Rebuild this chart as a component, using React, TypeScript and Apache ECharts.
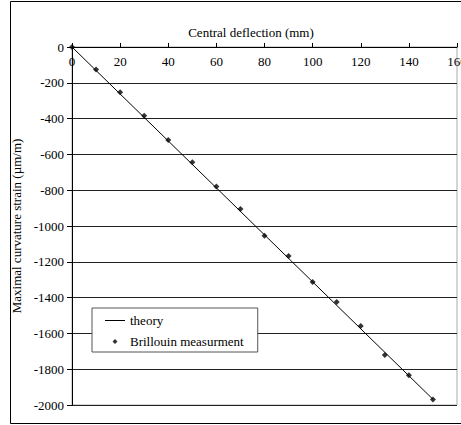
import React, { useEffect, useRef } from "react";
import * as echarts from "echarts";

const deflection = [0, 10, 20, 30, 40, 50, 60, 70, 80, 90, 100, 110, 120, 130, 140, 150];
const measured = [0, -125, -253, -384, -520, -644, -780, -905, -1054, -1168, -1313, -1425, -1559, -1721, -1834, -1969];
const theoryX = [0, 150];
const theoryY = [0, -1968];
const seriesNames = ["theory", "Brillouin measurment"];
const xTitle = "Central deflection (mm)";
const yTitle = "Maximal curvature strain (µm/m)";

const FONT = "Liberation Serif";

export default function App() {
  const ref = useRef<HTMLDivElement>(null);
  useEffect(() => {
    if (!ref.current) return;
    const chart = echarts.init(ref.current, null, { renderer: "svg" });
    chart.setOption({
      animation: false,
      backgroundColor: "#fff",
      textStyle: { fontFamily: FONT },
      title: {
        text: xTitle,
        left: 246,
        top: 21,
        textAlign: "center",
        textStyle: { fontFamily: FONT, fontSize: 13, fontWeight: "normal", color: "#000" },
      },
      graphic: [
        {
          type: "rect",
          shape: { x: 10.5, y: 1.5, width: 460, height: 422 },
          style: { fill: "none", stroke: "#000", lineWidth: 1 },
          silent: true,
          z: 100,
        },
      ],
      grid: {
        left: 72,
        top: 47,
        right: 4,
        bottom: 20,
        show: true,
        borderColor: "#aaa",
        borderWidth: 1,
        containLabel: false,
        outerBoundsMode: "none",
      },
      legend: {
        orient: "vertical",
        left: 92,
        top: 308,
        padding: [6, 14, 4, 13],
        itemWidth: 20,
        itemHeight: 6,
        itemGap: 8,
        backgroundColor: "#fff",
        borderColor: "#555",
        borderWidth: 1,
        textStyle: { fontFamily: FONT, fontSize: 13, color: "#000" },
        data: [
          { name: seriesNames[0], icon: "path://M0,2.5 L20,2.5 L20,3.5 L0,3.5 Z M0,0 L0.01,0 L0,0 Z M0,6 L0.01,6 L0,6 Z" },
          { name: seriesNames[1], icon: "path://M0,3 L0.01,3 L0,3 Z M7.5,3 L10,0.5 L12.5,3 L10,5.5 Z M19.99,3 L20,3 L19.99,3 Z M10,0 L10.01,0 L10,0 Z M10,6 L10.01,6 L10,6 Z" },
        ],
      },
      xAxis: {
        type: "value",
        position: "top",
        min: 0,
        max: 160,
        interval: 20,
        axisLine: { show: true, onZero: false, lineStyle: { color: "#000", width: 1 } },
        axisTick: { show: true, inside: false, length: 4, lineStyle: { color: "#000" } },
        axisLabel: {
          inside: true,
          margin: 8,
          fontFamily: FONT,
          fontSize: 13,
          color: "#000",
          alignMaxLabel: "center",
          alignMinLabel: "center",
        },
        splitLine: { show: false },
      },
      yAxis: {
        type: "value",
        min: -2000,
        max: 0,
        interval: 200,
        name: yTitle,
        nameLocation: "middle",
        nameGap: 43,
        nameTextStyle: { fontFamily: FONT, fontSize: 13, color: "#000" },
        axisLine: { show: true, onZero: false, lineStyle: { color: "#000", width: 1 } },
        axisTick: { show: true, inside: false, length: 5, lineStyle: { color: "#000" } },
        axisLabel: {
          margin: 8,
          fontFamily: FONT,
          fontSize: 13,
          color: "#000",
          formatter: (v: number) => String(v),
        },
        splitLine: { show: true, lineStyle: { color: "#222", width: 1 } },
      },
      series: [
        {
          name: seriesNames[0],
          type: "line",
          symbol: "none",
          data: theoryX.map((x, i) => [x, theoryY[i]]),
          lineStyle: { color: "#000", width: 1 },
          itemStyle: { color: "#000" },
          z: 3,
        },
        {
          name: seriesNames[1],
          type: "scatter",
          symbol: "diamond",
          symbolSize: 6,
          data: deflection.map((x, i) => [x, measured[i]]),
          itemStyle: { color: "#000" },
          z: 4,
        },
      ],
    });
    return () => chart.dispose();
  }, []);
  return (
    <div
      ref={ref}
      style={{ position: "absolute", left: 0, top: 0, width: 461, height: 425, background: "#fff" }}
    />
  );
}
